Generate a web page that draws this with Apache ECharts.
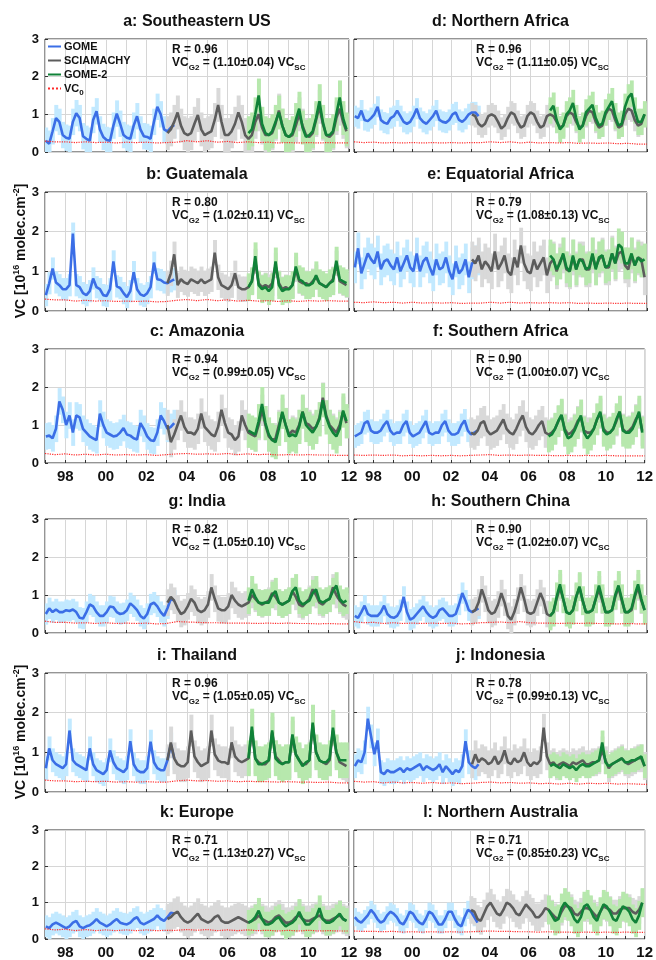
<!DOCTYPE html>
<html>
<head>
<meta charset="utf-8">
<script src="https://cdn.jsdelivr.net/npm/echarts@6/dist/echarts.min.js"></script>
<style>
  html, body { margin: 0; padding: 0; background: #fff; }
  #chart { width: 656px; height: 960px; }
</style>
</head>
<body>
<div id="chart"></div>
<script>
// monthly-ish samples: 6 per year (Jan, Mar, May, Jul, Sep, Nov)
// GOME 1997-01 .. 2003-05, SCIAMACHY 2003-01 .. 2011-11, GOME-2 2007-01 .. 2011-11
// VC0 every half year 1997.0 .. 2012.0
// spread = half width of the shaded band [GOME, SCIAMACHY, GOME-2]

// a: Southeastern US
var gomeA = [.30,.22,.55,.90,.80,.45, .38,.35,.80,1.03,.90,.42, .35,.30,.85,1.08,.60,.40,
  .32,.30,.70,1.02,.75,.45, .38,.35,.70,.95,.60,.42, .40,.35,.80,1.20,1.00,.60, .55,.65,.72];
var sciaA = [.50,.60,.80,1.05,.70,.50, .45,.50,.75,.98,.60,.45, .50,.55,.85,1.25,.80,.45,
  .45,.55,.75,1.05,.80,.45, .35,.45,.80,1.00,.65,.45, .45,.50,.75,1.10,.70,.45,
  .40,.45,.70,1.00,.70,.45, .40,.50,.85,1.20,.75,.45, .40,.50,.90,1.15,.80,.55];
var g2A = [.50,.60,1.00,1.50,.75,.50, .45,.55,.80,1.05,.70,.45, .40,.50,.85,1.15,.65,.40,
  .45,.55,.90,1.35,.80,.45, .45,.55,1.00,1.45,.90,.60];
var vc0A = [.29,.27,.27,.25,.27,.25,.26,.24,.26,.25,.26,.24,.25,.26,.30,.27,.30,.26,.28,.25,.27,.25,.26,.24,.25,.24,.25,.24,.25,.24,.24];
var spreadA = [.35, .45, .45];

// b: Guatemala
var gomeB = [.40,.70,1.07,.72,.65,.55, .55,.65,1.95,.65,.60,.45, .40,.50,.82,.60,.55,.40,
  .38,.55,1.25,.62,.58,.45, .35,.50,.98,.55,.42,.38, .45,.60,1.22,.80,.78,.72, .70,.75,.80];
var sciaB = [.70,.95,1.43,.65,.80,.72, .68,.80,.75,.70,.80,.70, .75,.80,1.47,.85,.65,.60,
  .55,.65,.95,.60,.55,.55, .60,.75,1.25,.70,.60,.65, .60,.70,1.15,.70,.55,.60,
  .55,.65,1.05,.75,.70,.70, .65,.75,.85,.70,.65,.60, .70,.80,1.20,.75,.70,.65];
var g2B = [.60,.75,1.38,.65,.55,.60, .50,.60,1.25,.65,.50,.55, .55,.65,1.12,.80,.75,.65,
  .65,.70,.90,.70,.65,.60, .70,.75,1.27,.80,.75,.70];
var vc0B = [.30,.28,.28,.25,.27,.25,.26,.24,.25,.24,.25,.23,.24,.27,.29,.26,.29,.26,.28,.25,.27,.25,.26,.24,.26,.24,.26,.25,.26,.25,.25];
var spreadB = [.28, .32, .35];

// c: Amazonia
var gomeC = [.70,.72,.65,.90,1.62,1.40, 1.00,1.25,.80,1.25,1.20,.90, .80,.70,.65,.60,1.30,1.00,
  .80,.75,.70,.72,.80,.92, .75,.72,.65,.62,1.05,.90, .70,.60,.58,.80,1.25,1.10, .90,.95,1.05];
var sciaC = [1.00,.55,.75,1.00,1.25,.95, .80,.80,.75,.90,1.30,.95, .85,.75,.70,.95,1.40,1.05,
  .80,.75,.60,.70,1.25,1.00, .80,.75,.70,1.00,1.40,1.00, .70,.60,.65,1.00,1.30,1.00,
  .75,.85,.80,1.00,1.35,1.05, 1.00,.90,.95,1.20,1.72,1.25, 1.00,.90,.80,1.00,1.35,1.05];
var g2C = [.85,.80,.75,1.10,1.55,1.05, .75,.60,.55,.90,1.35,1.00, .70,.75,.70,.95,1.35,1.00,
  .90,.80,.95,1.15,1.65,1.20, .95,.80,.70,.90,1.38,1.10];
var vc0C = [.25,.22,.24,.21,.23,.21,.23,.21,.22,.21,.22,.20,.22,.24,.25,.23,.24,.23,.25,.22,.24,.22,.23,.21,.22,.21,.22,.21,.21,.20,.20];
var spreadC = [.35, .40, .45];

// d: Northern Africa
var gomeD = [.95,.90,1.10,.85,.82,.90, 1.00,1.20,.85,.78,.75,.90, .95,1.10,.95,.80,.75,.80,
  .95,1.15,.90,.80,.75,.85, .95,1.10,.85,.80,.78,.85, 1.00,1.05,.85,.80,.88,1.00, 1.05,1.05,.95];
var sciaD = [1.00,.95,.75,.68,.75,.95, 1.00,.95,.80,.62,.70,.90, 1.05,1.00,.80,.65,.70,.95,
  1.05,1.00,.80,.65,.70,.95, 1.00,.95,.80,.65,.70,.95, 1.05,1.00,.80,.65,.70,.95,
  1.10,1.05,.80,.65,.70,1.00, 1.15,1.10,.85,.65,.70,1.00, 1.15,1.10,.85,.70,.75,1.00];
var g2D = [1.10,1.23,.85,.60,.70,1.00, 1.10,1.30,.90,.60,.70,1.05, 1.15,1.25,.90,.70,.75,1.05,
  1.20,1.35,.95,.70,.75,1.20, 1.45,1.55,1.10,.80,.80,1.00];
var vc0D = [.27,.25,.26,.24,.25,.24,.25,.24,.25,.24,.25,.24,.25,.25,.27,.25,.27,.24,.26,.24,.25,.24,.25,.23,.24,.23,.24,.22,.23,.21,.21];
var spreadD = [.28, .30, .35];

// e: Equatorial Africa
var gomeE = [1.10,1.58,.95,1.20,1.45,1.30, 1.20,1.50,1.05,1.25,1.30,1.15, 1.05,1.35,1.00,1.20,1.40,1.10,
  1.00,1.45,1.00,1.25,1.35,1.10, .90,1.30,1.05,1.10,1.35,1.00, .80,1.25,.95,1.05,1.30,.85, 1.20,1.25,1.30];
var sciaE = [1.30,1.20,1.40,1.05,1.25,1.15, 1.00,1.50,1.05,1.20,1.40,1.00, .90,1.35,1.10,1.65,1.20,1.00,
  .95,1.30,1.05,1.20,1.35,.90, 1.20,1.30,1.00,1.25,1.40,1.05, 1.00,1.35,1.05,1.30,1.30,1.05,
  1.05,1.40,1.10,1.30,1.40,1.10, 1.10,1.45,1.20,1.45,1.50,1.15, 1.05,1.40,1.15,1.35,1.30,.85];
var g2E = [1.40,1.30,1.05,1.20,1.45,1.10, 1.00,1.40,1.05,1.30,1.25,1.05, 1.10,1.45,1.05,1.35,1.40,1.10,
  1.15,1.45,1.20,1.68,1.60,1.20, 1.20,1.45,1.15,1.35,1.25,1.30];
var vc0E = [.22,.21,.23,.21,.22,.20,.22,.20,.21,.20,.21,.19,.20,.20,.22,.20,.22,.20,.21,.20,.21,.20,.21,.19,.20,.19,.20,.19,.20,.19,.19];
var spreadE = [.40, .45, .40];

// f: Southern Africa
var gomeF = [.70,.75,.80,1.05,1.10,.85, .80,.80,.85,1.00,1.10,.85, .75,.80,.80,1.00,1.10,.80,
  .70,.75,.80,.95,1.10,.80, .75,.80,.80,1.00,1.10,.85, .75,.75,.80,1.00,1.12,.85, .75,.80,.85];
var sciaF = [.80,.75,.85,1.05,1.10,.85, .75,.80,.85,1.00,1.15,.90, .80,.75,.90,1.10,1.25,.95,
  .80,.75,.85,1.00,1.10,.80, .75,.80,.90,1.10,1.25,.90, .75,.80,.90,1.10,1.20,.85,
  .80,.80,.90,1.15,1.30,.90, .80,.80,.90,1.10,1.35,.90, .80,.85,.95,1.15,1.30,.85];
var g2F = [.70,.75,.90,1.10,1.27,.85, .65,.70,.85,1.05,1.25,.80, .65,.75,.90,1.15,1.35,.85,
  .75,.80,.90,1.15,1.35,.85, .80,.80,.90,1.10,1.35,.80];
var vc0F = [.21,.20,.21,.20,.21,.19,.20,.19,.20,.19,.20,.19,.20,.21,.22,.20,.21,.20,.21,.20,.20,.19,.20,.19,.20,.19,.20,.19,.19,.19,.19];
var spreadF = [.30, .40, .42];

// g: India
var gomeG = [.50,.65,.55,.62,.55,.55, .60,.58,.62,.55,.40,.38, .55,.75,.70,.55,.45,.45,
  .55,.70,.68,.55,.50,.52, .60,.78,.70,.60,.45,.38, .50,.75,.80,.70,.55,.45, .65,.90,.85];
var sciaG = [.80,.95,.85,.65,.50,.55, .70,.90,.80,.60,.55,.60, .75,1.20,.90,.65,.60,.60,
  .70,1.00,.85,.75,.70,.75, .80,1.00,.90,.80,.75,.80, .85,1.05,.95,.80,.75,.80,
  .85,1.10,.95,.75,.70,.80, .90,1.15,1.00,.80,.75,.85, .90,1.20,1.00,.85,.75,.70];
var g2G = [.85,1.15,.95,.80,.78,.80, .80,1.00,1.10,.80,.75,.80, .85,1.10,1.20,.85,.75,.80,
  .85,1.05,1.15,.85,.80,.85, .90,1.10,1.25,.90,.80,.85];
var vc0G = [.31,.28,.28,.26,.27,.25,.27,.25,.26,.25,.26,.24,.25,.30,.29,.28,.27,.27,.26,.26,.26,.25,.26,.25,.26,.25,.25,.24,.25,.24,.24];
var spreadG = [.28, .35, .35];

// h: Southern China
var gomeH = [.45,.40,.55,.72,.50,.45, .45,.45,.55,.72,.50,.42, .40,.45,.60,.95,.55,.35,
  .40,.50,.60,.70,.55,.45, .40,.45,.60,.65,.55,.45, .45,.50,.75,1.05,.85,.60, .55,.60,.65];
var sciaH = [.55,.60,.80,1.15,.90,.60, .50,.55,.75,1.05,.80,.45, .35,.55,.85,1.20,.90,.55,
  .50,.55,.80,1.05,.85,.50, .45,.55,.90,1.20,.90,.55, .50,.60,.95,1.20,.85,.55,
  .55,.60,.90,1.15,.85,.55, .55,.60,.95,1.20,.85,.55, .55,.60,.95,1.20,.85,.60];
var g2H = [.45,.55,.95,1.28,.90,.55, .50,.60,.95,1.22,.85,.55, .55,.60,.90,1.25,.90,.55,
  .55,.60,1.00,1.25,.90,.55, .55,.65,1.00,1.28,.90,.60];
var vc0H = [.30,.27,.28,.25,.27,.25,.26,.25,.26,.25,.26,.24,.25,.27,.28,.29,.27,.30,.27,.26,.26,.25,.26,.25,.26,.25,.25,.24,.25,.24,.24];
var spreadH = [.28, .35, .38];

// i: Thailand
var gomeI = [.60,1.10,.80,.70,.65,.60, .70,1.55,.80,.70,.65,.60, .55,1.10,.70,.55,.50,.45,
  .55,1.05,.75,.60,.55,.50, .60,1.28,.70,.55,.50,.50, .60,1.27,.75,.60,.55,.55, .80,1.20,.85];
var sciaI = [.80,1.25,.85,.70,.65,.65, .75,1.55,.90,.75,.65,.70, .75,1.55,.95,.80,.75,.75,
  .70,1.25,.90,.80,.75,.80, .85,1.55,.85,.75,.70,.70, .80,1.50,.90,.80,.70,.75,
  .75,1.40,.95,.80,.70,.70, .80,1.70,1.00,.80,.75,.70, .80,1.55,1.00,.75,.70,.65];
var g2I = [.85,1.65,.85,.70,.70,.75, .80,1.55,.85,.75,.70,.75, .75,1.45,.95,.80,.65,.75,
  .80,1.75,1.00,.80,.75,.75, .85,1.62,1.00,.80,.80,.80];
var vc0I = [.30,.28,.28,.26,.27,.26,.27,.25,.26,.25,.26,.25,.25,.28,.30,.28,.29,.27,.28,.26,.27,.26,.26,.25,.26,.25,.25,.24,.25,.23,.23];
var spreadI = [.30, .40, .45];

// j: Indonesia
var gomeJ = [.65,.80,.75,1.00,1.85,1.40, .95,1.30,.50,.45,.55,.50, .50,.55,.60,.50,.60,.55,
  .60,.65,.70,.55,.65,.60, .55,.60,.70,.50,.65,.55, .45,.55,.50,.65,1.28,.75, .65,.60,.70];
var sciaJ = [.70,.95,.75,.85,.80,.70, .75,.90,.70,.80,1.05,.75, .70,.85,.75,.80,1.00,.75,
  .65,.75,.70,.80,1.62,.90, .70,.75,.65,.70,.75,.70, .65,.75,.70,.75,.80,.70,
  .70,.75,.75,.80,1.05,.80, .60,.70,.75,.80,.85,.75, .70,.75,.80,.85,.85,.65];
var g2J = [.65,.70,.65,.60,.70,.65, .60,.65,.55,.65,.70,.65, .65,.70,.75,.80,1.25,.75,
  .65,.70,.75,.80,.85,.75, .75,.80,.80,.85,.90,.65];
var vc0J = [.27,.25,.26,.23,.25,.23,.24,.22,.24,.22,.23,.21,.22,.24,.25,.23,.24,.22,.23,.21,.22,.20,.22,.20,.22,.21,.22,.20,.21,.20,.19];
var spreadJ = [.30, .35, .30];

// k: Europe
var gomeK = [.35,.30,.40,.45,.40,.35, .30,.35,.45,.50,.35,.30, .35,.38,.45,.55,.45,.40,
  .35,.40,.48,.55,.45,.42, .40,.45,.55,.60,.45,.40, .45,.50,.55,.65,.55,.50, .60,.72,.70];
var sciaK = [.55,.60,.70,.75,.60,.50, .45,.50,.60,.70,.55,.50, .45,.50,.60,.65,.50,.45,
  .45,.50,.55,.60,.55,.50, .45,.50,.55,.65,.55,.50, .45,.50,.60,.65,.55,.45,
  .45,.50,.60,.65,.55,.50, .50,.55,.60,.65,.55,.50, .50,.55,.60,.65,.55,.50];
var g2K = [.45,.50,.60,.78,.55,.40, .40,.45,.55,.60,.45,.35, .40,.45,.55,.75,.55,.40,
  .40,.50,.60,.85,.55,.45, .45,.50,.60,.70,.55,.50];
var vc0K = [.28,.25,.27,.23,.26,.23,.25,.23,.25,.23,.25,.23,.24,.24,.26,.24,.26,.23,.25,.23,.25,.23,.24,.22,.24,.22,.24,.22,.23,.22,.22];
var spreadK = [.30, .42, .35];

// l: Northern Australia
var gomeL = [.60,.50,.45,.55,.65,.80, .70,.55,.45,.50,.65,.75, .70,.60,.45,.40,.55,.75,
  .70,.55,.45,.40,.55,.75, .70,.55,.40,.40,.55,.75, .75,.55,.40,.35,.60,.80, .75,.60,.45];
var sciaL = [.80,.75,.55,.50,.70,.90, 1.00,.85,.70,.65,.80,1.00, .95,.85,.70,.65,.80,.95,
  .85,.75,.60,.60,.70,.85, .80,.70,.60,.55,.75,.90, .90,.85,.70,.65,.75,.85,
  .85,.80,.70,.60,.75,.90, .85,.80,.70,.70,.80,.85, .85,.85,.75,.70,.80,1.00];
var g2L = [.80,.65,.50,.55,.85,1.00, .90,.75,.55,.45,.60,.90, .95,.80,.60,.50,.75,.95,
  .90,.75,.55,.50,.70,.90, .85,.75,.55,.45,.65,1.00];
var vc0L = [.22,.21,.21,.20,.21,.19,.20,.19,.20,.19,.20,.19,.20,.21,.22,.21,.21,.20,.20,.19,.20,.19,.19,.18,.19,.18,.19,.18,.19,.18,.18];
var spreadL = [.25, .38, .40];

var panelTitles = ['a: Southeastern US', 'd: Northern Africa', 'b: Guatemala', 'e: Equatorial Africa',
  'c: Amazonia', 'f: Southern Africa', 'g: India', 'h: Southern China',
  'i: Thailand', 'j: Indonesia', 'k: Europe', 'l: Northern Australia'];
var rValues = ['0.96', '0.96', '0.80', '0.79', '0.94', '0.90', '0.82', '0.90', '0.96', '0.78', '0.71', '0.71'];
var slopes = ['1.10±0.04', '1.11±0.05', '1.02±0.11', '1.08±0.13', '0.99±0.05', '1.00±0.07',
  '1.05±0.10', '1.02±0.07', '1.05±0.05', '0.99±0.13', '1.13±0.27', '0.85±0.23'];
var gomeSets = [gomeA, gomeD, gomeB, gomeE, gomeC, gomeF, gomeG, gomeH, gomeI, gomeJ, gomeK, gomeL];
var sciaSets = [sciaA, sciaD, sciaB, sciaE, sciaC, sciaF, sciaG, sciaH, sciaI, sciaJ, sciaK, sciaL];
var g2Sets = [g2A, g2D, g2B, g2E, g2C, g2F, g2G, g2H, g2I, g2J, g2K, g2L];
var vc0Sets = [vc0A, vc0D, vc0B, vc0E, vc0C, vc0F, vc0G, vc0H, vc0I, vc0J, vc0K, vc0L];
var spreadSets = [spreadA, spreadD, spreadB, spreadE, spreadC, spreadF, spreadG, spreadH, spreadI, spreadJ, spreadK, spreadL];

var FONT = 'Liberation Sans, Arial, sans-serif';
var colLeft = [45, 354], colWidth = [304, 293];
var rowTop = [39, 192, 349, 519, 673, 830], rowHeight = [113, 119, 114, 114, 119, 112];
var labelRows = [2, 5];
var binHalf = 1 / 12;

var cGome = '#3b6ee6', cScia = '#5c5c5c', cG2 = '#108238', cVc0 = '#ff2a2a';
var bGome = '#c2e9ff', bScia = '#d9d9d9', bG2 = '#b7e8ad';

function toLine(vals, start) {
  return vals.map(function (v, i) { return [start + (2 * i + 0.5) / 12, v]; });
}
function toBand(vals, start, s) {
  return vals.map(function (v, i) { return [start + (2 * i + 0.5) / 12, v - s, v + s]; });
}
function bandRender(color) {
  return function (params, api) {
    var t = api.value(0);
    var p1 = api.coord([t - binHalf, api.value(2)]);
    var p2 = api.coord([t + binHalf, api.value(1)]);
    var rect = echarts.graphic.clipRectByRect(
      { x: p1[0], y: p1[1], width: p2[0] - p1[0] + 0.6, height: p2[1] - p1[1] },
      { x: params.coordSys.x, y: params.coordSys.y, width: params.coordSys.width, height: params.coordSys.height });
    return rect && { type: 'rect', shape: rect, style: { fill: color } };
  };
}

var grid = [], xAxis = [], yAxis = [], series = [], graphic = [];

panelTitles.forEach(function (title, i) {
  var row = Math.floor(i / 2), col = i % 2;
  var left = colLeft[col], top = rowTop[row];
  grid.push({ left: left, top: top, width: colWidth[col], height: rowHeight[row],
    show: true, borderColor: '#2a2a2a', borderWidth: 1 });
  xAxis.push({ type: 'value', gridIndex: i, min: 1997, max: 2012, interval: 1,
    axisLine: { show: false },
    axisTick: { inside: true, length: 3, lineStyle: { color: '#333' } },
    splitLine: { show: true, lineStyle: { color: '#d6d6d6', width: 1 } },
    axisLabel: { show: labelRows.indexOf(row) >= 0, margin: 6, color: '#111',
      fontFamily: FONT, fontSize: 15, fontWeight: 'bold',
      formatter: function (v) { return v % 2 ? '' : String(v).slice(2); } } });
  yAxis.push({ type: 'value', gridIndex: i, min: 0, max: 3, interval: 1,
    axisLine: { show: false },
    axisTick: { inside: true, length: 3, lineStyle: { color: '#333' } },
    splitLine: { show: true, lineStyle: { color: '#d6d6d6', width: 1 } },
    axisLabel: { show: col === 0, margin: 6, color: '#111',
      fontFamily: FONT, fontSize: 13, fontWeight: 'bold' } });

  var sp = spreadSets[i];
  [[gomeSets[i], 1997, sp[0], bGome], [sciaSets[i], 2003, sp[1], bScia], [g2Sets[i], 2007, sp[2], bG2]]
    .forEach(function (b) {
      series.push({ type: 'custom', xAxisIndex: i, yAxisIndex: i, silent: true,
        encode: { x: 0, y: [1, 2] }, renderItem: bandRender(b[3]),
        data: toBand(b[0], b[1], b[2]) });
    });
  [['GOME', gomeSets[i], 1997, cGome], ['SCIAMACHY', sciaSets[i], 2003, cScia], ['GOME-2', g2Sets[i], 2007, cG2]]
    .forEach(function (l) {
      series.push({ type: 'line', name: l[0], xAxisIndex: i, yAxisIndex: i, silent: true,
        symbol: 'none', color: l[3], lineStyle: { color: l[3], width: 2.6 },
        data: toLine(l[1], l[2]) });
    });
  series.push({ type: 'line', name: 'VC0', xAxisIndex: i, yAxisIndex: i, silent: true,
    symbol: 'none', color: cVc0, lineStyle: { color: cVc0, width: 1.2, type: 'dotted' },
    data: vc0Sets[i].map(function (v, k) { return [1997 + k / 2, v]; }) });

  // panel title
  graphic.push({ type: 'text', x: left + colWidth[col] / 2, y: top - 17, z: 100,
    style: { text: title, fill: '#111', fontFamily: FONT, fontSize: 16, fontWeight: 'bold',
      align: 'center', verticalAlign: 'middle' } });
  // statistics
  var tx = left + (col === 0 ? 127 : 122);
  graphic.push({ type: 'text', x: tx, y: top + 11, z: 100,
    style: { text: 'R = ' + rValues[i], fill: '#111', fontFamily: FONT, fontSize: 12,
      fontWeight: 'bold', align: 'left', verticalAlign: 'middle' } });
  graphic.push({ type: 'text', x: tx, y: top + 24, z: 100,
    style: { text: '{b|VC}{s|G2}{b| = (' + slopes[i] + ') VC}{s|SC}', fill: '#111',
      fontFamily: FONT, fontSize: 12, fontWeight: 'bold', align: 'left', verticalAlign: 'middle',
      rich: { b: { fontFamily: FONT, fontSize: 12, fontWeight: 'bold', fill: '#111' },
              s: { fontFamily: FONT, fontSize: 8, fontWeight: 'bold', fill: '#111', padding: [9, 0, 0, 0] } } } });
});

// y axis names
[251, 732].forEach(function (cy) {
  graphic.push({ type: 'text', x: 21, y: cy, rotation: Math.PI / 2, z: 100,
    style: { text: '{b|VC [10}{p|16}{b| molec.cm}{p|-2}{b|]}', fill: '#111',
      fontFamily: FONT, fontSize: 14, fontWeight: 'bold', align: 'center', verticalAlign: 'middle',
      rich: { b: { fontFamily: FONT, fontSize: 14, fontWeight: 'bold', fill: '#111' },
              p: { fontFamily: FONT, fontSize: 9, fontWeight: 'bold', fill: '#111', padding: [0, 0, 9, 0] } } } });
});

var chart = echarts.init(document.getElementById('chart'), null, { renderer: 'canvas' });
chart.setOption({
  backgroundColor: '#fff',
  animation: false,
  legend: { orient: 'vertical', left: 47, top: 41, padding: 0, itemWidth: 13, itemHeight: 10, itemGap: 3,
    selectedMode: false, data: ['GOME', 'SCIAMACHY', 'GOME-2', 'VC0'],
    itemStyle: { opacity: 0 },
    formatter: function (n) { return n === 'VC0' ? 'VC{s|0}' : n; },
    textStyle: { fontFamily: FONT, fontSize: 11, fontWeight: 'bold', color: '#111', padding: [0, 0, 0, -2],
      rich: { s: { fontFamily: FONT, fontSize: 8, fontWeight: 'bold', color: '#111', padding: [8, 0, 0, 0] } } } },
  grid: grid,
  xAxis: xAxis,
  yAxis: yAxis,
  series: series,
  graphic: graphic
});
</script>
</body>
</html>
